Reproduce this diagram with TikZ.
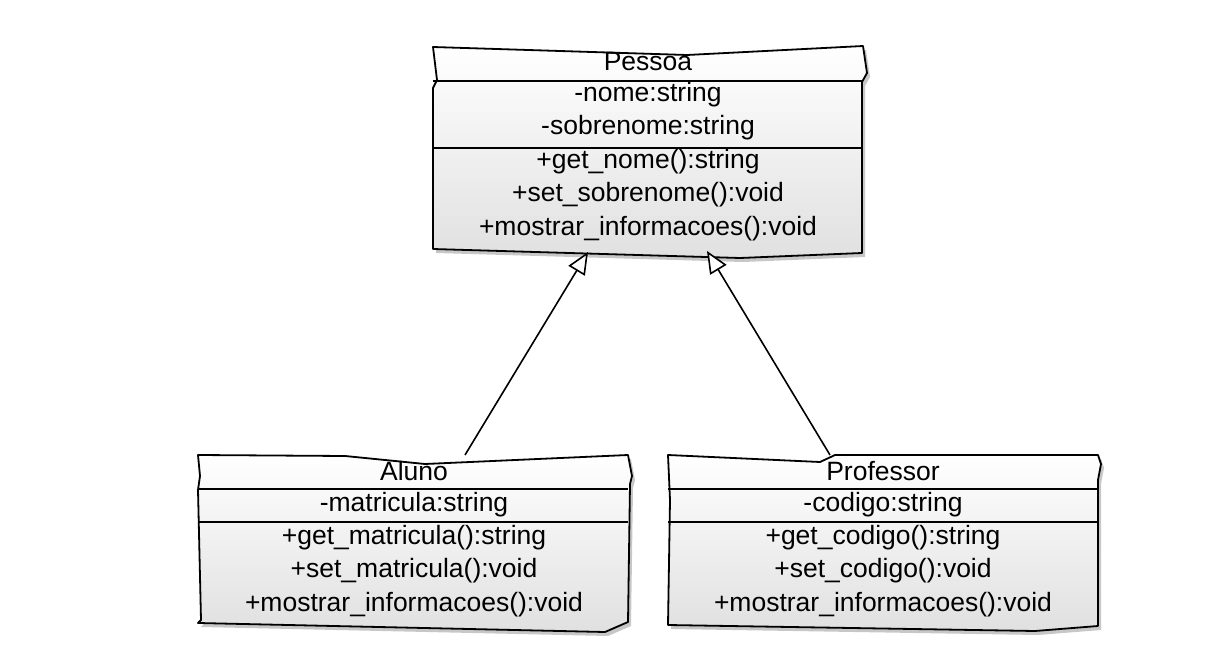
\documentclass[tikz,border=0pt]{standalone}
\usepackage{fontspec}
\setmainfont{Liberation Sans}
\usetikzlibrary{arrows.meta,shadows}
\begin{document}
\begin{tikzpicture}[x=1pt,y=-1pt,
  box/.style={draw=black, line width=1.8pt, line join=round, top color=white, bottom color=black!12,
    drop shadow={shadow xshift=3pt, shadow yshift=-4pt, opacity=0.22, fill=black}},
  sep/.style={line width=1.8pt},
  txt/.style={font=\fontsize{26.5}{26.5}\selectfont, inner sep=0pt, anchor=center},
  gen/.style={line width=1.6pt, -{Triangle[open, length=22pt, width=19pt, fill=white, line width=1.6pt]}}]
\useasboundingbox (0,0) rectangle (1210,671);
\fill[white] (0,0) rectangle (1210,671);

% Pessoa box
\path[box] (433,47) -- (687,55) -- (863,46) -- (867,73) -- (862,82) -- (862,253) -- (740,258) -- (433,249) -- (433,88) -- (437,80) -- cycle;
\draw[sep] (433,81) -- (862,81);
\draw[sep] (433,148) -- (862,148);
\node[txt] (pessoa) at (648,62) {Pessoa};
\node[txt] (pnome) at (648,95) {-nome:string};
\node[txt] (psob) at (648,128) {-sobrenome:string};
\node[txt] (pget) at (648,162) {+get\_nome():string};
\node[txt] (pset) at (648,195) {+set\_sobrenome():void};
\node[txt] (pmos) at (648,229) {+mostrar\_informacoes():void};

% Aluno box
\path[box] (198,455) -- (345,456) -- (425,464) -- (628,455) -- (632,476) -- (630,484) -- (628,622) -- (605,632) -- (198,623) -- (201,620) -- (198,490) -- (200,476) -- cycle;
\draw[sep] (198,489) -- (628,489);
\draw[sep] (198,522) -- (628,522);
\node[txt] (aluno) at (414,471) {Aluno};
\node[txt] (amat) at (414,505) {-matricula:string};
\node[txt] (aget) at (414,538) {+get\_matricula():string};
\node[txt] (aset) at (414,571) {+set\_matricula():void};
\node[txt] (amos) at (414,605) {+mostrar\_informacoes():void};

% Professor box
\path[box] (668,455) -- (820,462) -- (835,455) -- (1098,455) -- (1101,464) -- (1098,480) -- (1098,626) -- (1035,631) -- (668,625) -- (670,500) -- cycle;
\draw[sep] (668,489) -- (1098,489);
\draw[sep] (668,522) -- (1098,522);
\node[txt] (prof) at (883,471) {Professor};
\node[txt] (pcod) at (883,505) {-codigo:string};
\node[txt] (pgetc) at (883,538) {+get\_codigo():string};
\node[txt] (psetc) at (883,571) {+set\_codigo():void};
\node[txt] (pmosc) at (883,605) {+mostrar\_informacoes():void};

% generalisation connectors
\coordinate (alunoTop) at (465,455);
\coordinate (profTop) at (830,455);
\coordinate (pessoaL) at (588,252);
\coordinate (pessoaR) at (707,251);
\draw[gen] (alunoTop) -- (pessoaL);
\draw[gen] (profTop) -- (pessoaR);
\end{tikzpicture}
\end{document}
